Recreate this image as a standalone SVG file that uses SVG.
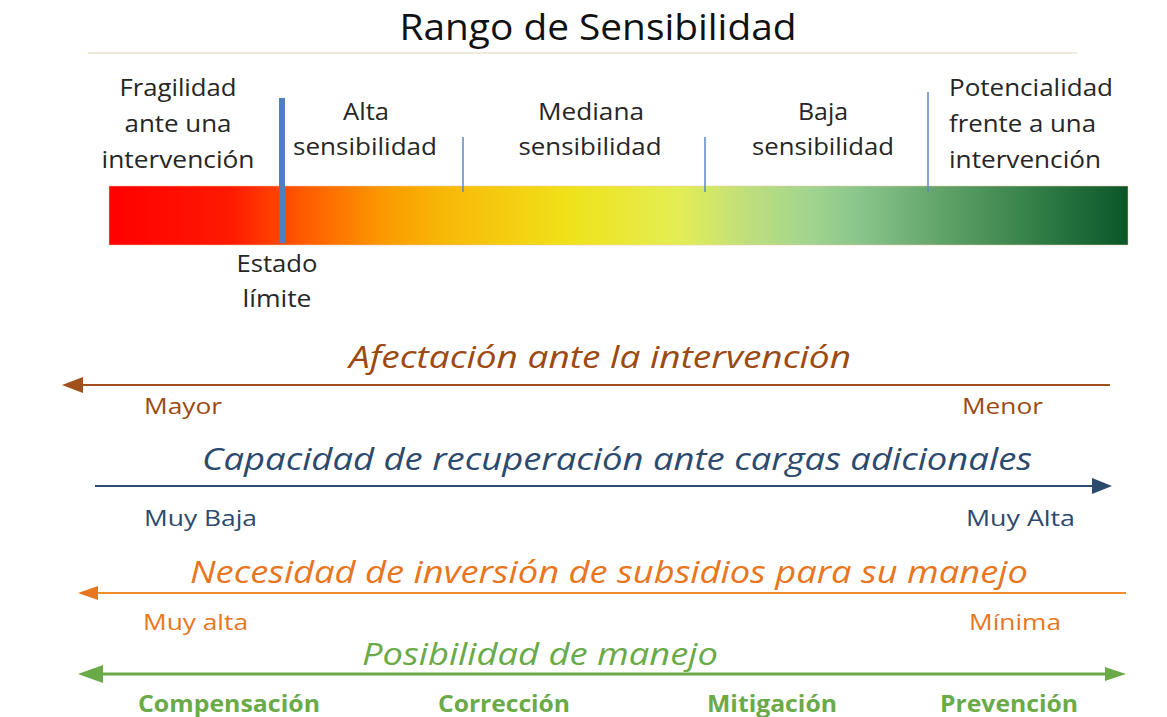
<svg xmlns="http://www.w3.org/2000/svg" width="1167" height="717" viewBox="0 0 1167 717">
<defs>
<linearGradient id="grad" x1="0" y1="0" x2="1" y2="0">
<stop offset="0" stop-color="#ff0000"/>
<stop offset="0.12" stop-color="#ff1a00"/>
<stop offset="0.19" stop-color="#ff5a00"/>
<stop offset="0.27" stop-color="#fb9a00"/>
<stop offset="0.33" stop-color="#f8b808"/>
<stop offset="0.45" stop-color="#f0e218"/>
<stop offset="0.56" stop-color="#e3ee55"/>
<stop offset="0.62" stop-color="#c2e07a"/>
<stop offset="0.69" stop-color="#a0d490"/>
<stop offset="0.74" stop-color="#88c48a"/>
<stop offset="0.83" stop-color="#5a9e64"/>
<stop offset="0.92" stop-color="#2e7a44"/>
<stop offset="1" stop-color="#0a5628"/>
</linearGradient>
</defs>
<style>
text{font-family:"Open Sans",Lato,"Liberation Sans",sans-serif}
.lbl{font-size:24px;fill:#262626}
.c{text-anchor:middle}
.ttl{font-size:31px;font-style:italic;text-anchor:middle}
.end{font-size:22px}
.b{font-weight:bold;fill:#6aaa48;font-size:23px}
.tick{stroke:#5b88c8;stroke-width:1.5}
</style>
<rect width="1167" height="717" fill="#ffffff"/>
<g id="title">
<text x="598" y="40" font-size="36" fill="#111" text-anchor="middle" textLength="397" lengthAdjust="spacingAndGlyphs">Rango de Sensibilidad</text>
<line x1="88" y1="53" x2="1077" y2="53" stroke="#efeadb" stroke-width="2"/>
</g>
<g id="bar">
<rect x="109" y="186" width="1019" height="59" fill="url(#grad)" stroke="#f4c8a8" stroke-opacity="0.5" stroke-width="1"/>
<line class="tick" x1="463" y1="137" x2="463" y2="192"/>
<line class="tick" x1="705" y1="137" x2="705" y2="192"/>
<line class="tick" x1="928" y1="92" x2="928" y2="192"/>
<rect x="279" y="98" width="6" height="145" fill="#4f7fc0"/>
</g>
<g id="labels">
<text class="lbl c" x="178" y="96" textLength="117" lengthAdjust="spacingAndGlyphs">Fragilidad</text>
<text class="lbl c" x="178" y="132" textLength="107" lengthAdjust="spacingAndGlyphs">ante una</text>
<text class="lbl c" x="178" y="168" textLength="153" lengthAdjust="spacingAndGlyphs">intervención</text>
<text class="lbl c" x="366" y="120" textLength="46" lengthAdjust="spacingAndGlyphs">Alta</text>
<text class="lbl c" x="365" y="155" textLength="144" lengthAdjust="spacingAndGlyphs">sensibilidad</text>
<text class="lbl c" x="591" y="120" textLength="106" lengthAdjust="spacingAndGlyphs">Mediana</text>
<text class="lbl c" x="590" y="155" textLength="143" lengthAdjust="spacingAndGlyphs">sensibilidad</text>
<text class="lbl c" x="823" y="120" textLength="50" lengthAdjust="spacingAndGlyphs">Baja</text>
<text class="lbl c" x="823" y="155" textLength="142" lengthAdjust="spacingAndGlyphs">sensibilidad</text>
<text class="lbl" x="949" y="96" textLength="164" lengthAdjust="spacingAndGlyphs">Potencialidad</text>
<text class="lbl" x="949" y="132" textLength="147" lengthAdjust="spacingAndGlyphs">frente a una</text>
<text class="lbl" x="949" y="168" textLength="152" lengthAdjust="spacingAndGlyphs">intervención</text>
<text class="lbl c" x="277" y="272" textLength="81" lengthAdjust="spacingAndGlyphs">Estado</text>
<text class="lbl c" x="277" y="307" textLength="69" lengthAdjust="spacingAndGlyphs">límite</text>
</g>
<g id="connectors">
<line x1="1110" y1="385" x2="80" y2="385" stroke="#a0501a" stroke-width="2"/>
<path d="M83,377 L62,385 L83,393 z" fill="#a0501a"/>
<line x1="95" y1="486" x2="1094" y2="486" stroke="#2c4a6e" stroke-width="2"/>
<path d="M1092,478 L1112,486 L1092,494 z" fill="#2c4a6e"/>
<line x1="1126" y1="593" x2="96" y2="593" stroke="#f08a30" stroke-width="2"/>
<path d="M98,586 L78,593 L98,600 z" fill="#e8761e"/>
<line x1="96" y1="674" x2="1108" y2="674" stroke="#6aaa48" stroke-width="3"/>
<path d="M103,665 L78,674 L103,683 z" fill="#6aaa48"/>
<path d="M1105,667 L1126,674 L1105,681 z" fill="#6aaa48"/>
</g>
<g id="axis-afectacion">
<text class="ttl" x="600" y="368" fill="#9c4a12" textLength="502" lengthAdjust="spacingAndGlyphs">Afectación ante la intervención</text>
<text class="end" x="144" y="414" fill="#9c4a12" textLength="78" lengthAdjust="spacingAndGlyphs">Mayor</text>
<text class="end" x="962" y="414" fill="#9c4a12" textLength="81" lengthAdjust="spacingAndGlyphs">Menor</text>
</g>
<g id="axis-capacidad">
<text class="ttl" x="617" y="470" fill="#2c4a6e" textLength="830" lengthAdjust="spacingAndGlyphs">Capacidad de recuperación ante cargas adicionales</text>
<text class="end" x="144" y="526" fill="#2c4a6e" textLength="113" lengthAdjust="spacingAndGlyphs">Muy Baja</text>
<text class="end" x="966" y="526" fill="#2c4a6e" textLength="109" lengthAdjust="spacingAndGlyphs">Muy Alta</text>
</g>
<g id="axis-necesidad">
<text class="ttl" x="609" y="583" fill="#e8761e" textLength="838" lengthAdjust="spacingAndGlyphs">Necesidad de inversión de subsidios para su manejo</text>
<text class="end" x="143" y="630" fill="#e8761e" textLength="105" lengthAdjust="spacingAndGlyphs">Muy alta</text>
<text class="end" x="969" y="630" fill="#e8761e" textLength="92" lengthAdjust="spacingAndGlyphs">Mínima</text>
</g>
<g id="axis-posibilidad">
<text class="ttl" x="540" y="665" fill="#6aaa48" textLength="356" lengthAdjust="spacingAndGlyphs">Posibilidad de manejo</text>
<text class="end b" x="138" y="712" textLength="182" lengthAdjust="spacingAndGlyphs">Compensación</text>
<text class="end b" x="438" y="712" textLength="132" lengthAdjust="spacingAndGlyphs">Corrección</text>
<text class="end b" x="707" y="712" textLength="130" lengthAdjust="spacingAndGlyphs">Mitigación</text>
<text class="end b" x="940" y="712" textLength="138" lengthAdjust="spacingAndGlyphs">Prevención</text>
</g>
</svg>
